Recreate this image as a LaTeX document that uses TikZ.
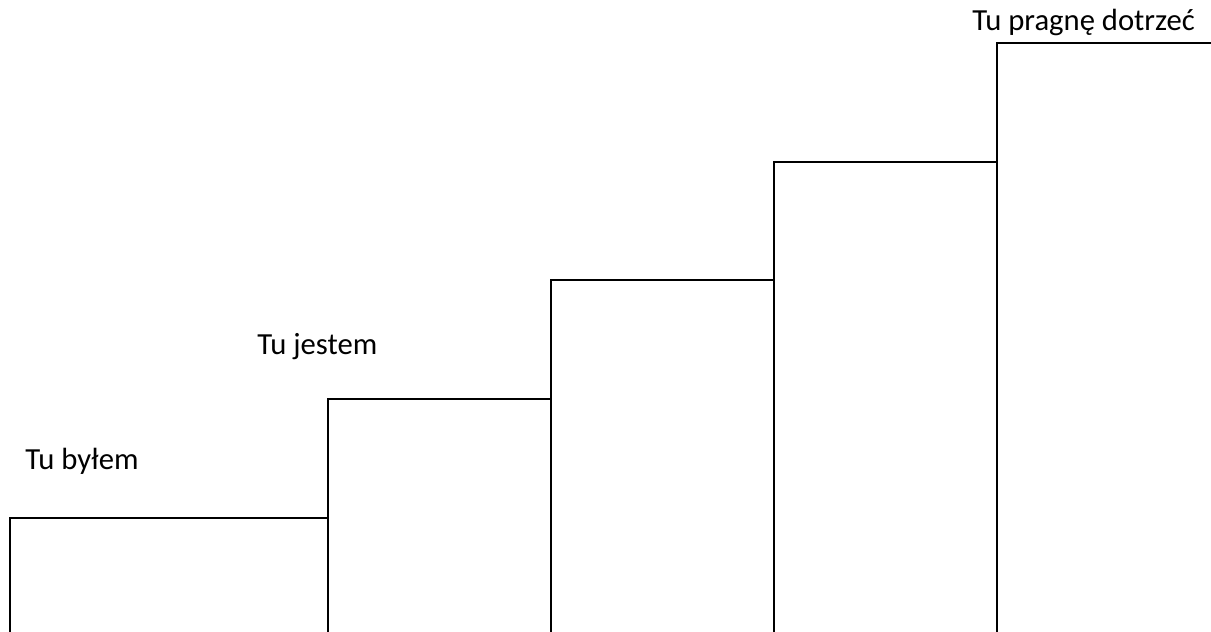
\documentclass[tikz,border=0pt]{standalone}
\usepackage{fontspec}
\setmainfont{Carlito}
\begin{document}
\begin{tikzpicture}[x=0.75pt,y=-0.75pt,
  stepline/.style={line width=1.5pt,line cap=rect},
  lbl/.style={font=\fontsize{23}{27}\selectfont,inner sep=0pt,anchor=base west}]
\useasboundingbox (0,0) rectangle (1211,632);
\coordinate (b1) at (10,632);
\coordinate (t1) at (10,518);
\coordinate (t2) at (328,399);
\coordinate (t3) at (551,280);
\coordinate (t4) at (774,162);
\coordinate (t5) at (997,43);
\coordinate (e5) at (1211,43);
\draw[stepline] (b1) -- (t1) -- (t1 -| t2) -- (t2 |- b1);
\draw[stepline] (t2 |- t1) -- (t2) -- (t2 -| t3) -- (t3 |- b1);
\draw[stepline] (t3 |- t2) -- (t3) -- (t3 -| t4) -- (t4 |- b1);
\draw[stepline] (t4 |- t3) -- (t4) -- (t4 -| t5) -- (t5 |- b1);
\draw[stepline] (t5 |- t4) -- (t5) -- (e5);
\node[lbl] (l1) at (25,469) {Tu byłem};
\node[lbl] (l2) at (257,354) {Tu jestem};
\node[lbl] (l3) at (972,30) {Tu pragnę dotrzeć};
\end{tikzpicture}
\end{document}
